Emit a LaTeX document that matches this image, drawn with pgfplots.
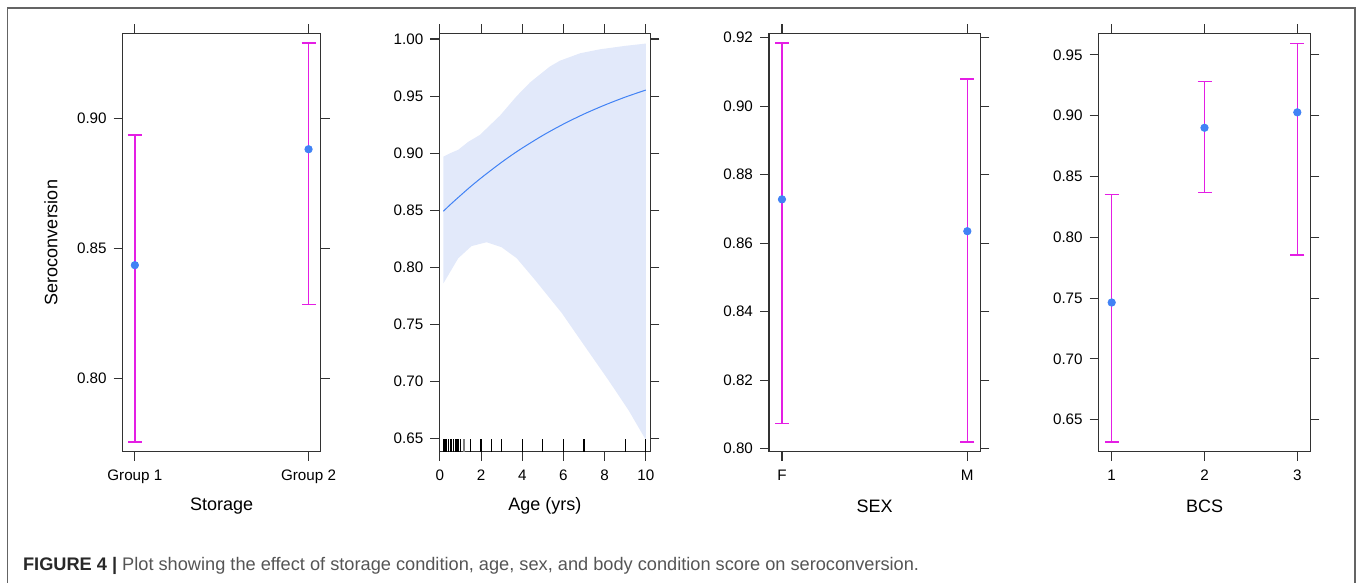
\documentclass[border=0pt]{standalone}
\usepackage{fontspec}
\setmainfont{Liberation Sans}
\usepackage{pgfplots}
\pgfplotsset{compat=1.18}

\definecolor{errmag}{RGB}{228,30,228}
\definecolor{ptblue}{RGB}{65,130,245}
\definecolor{bandblue}{RGB}{226,233,250}
\definecolor{axgray}{RGB}{50,50,50}
\definecolor{framegray}{RGB}{100,100,100}
\definecolor{capdark}{RGB}{40,40,40}
\definecolor{capgray}{RGB}{85,85,85}

\pgfplotsset{
  effstyle/.style={
    scale only axis, anchor=south west,
    height=209.2pt,
    axis line style={axgray, line width=0.6pt},
    tick style={axgray, line width=0.55pt},
    tick align=outside,
    major tick length=4.5pt,
    xtick pos=both, ytick pos=both,
    ticklabel pos=left,
    minor tick num=0,
    tick label style={font=\fontsize{7.6}{9}\selectfont, text=black},
    xticklabel style={yshift=-1.2pt},
    label style={font=\fontsize{9}{11}\selectfont},
    /pgf/number format/assume math mode=true,
    yticklabel style={/pgf/number format/.cd, fixed, fixed zerofill, precision=2},
    xlabel style={at={(axis description cs:0.5,-0.1300)}, anchor=center},
    clip=true,
  },
  errbars/.style={
    only marks, mark=*, mark size=1.85pt,
    mark options={fill=ptblue, draw=ptblue},
    error bars/.cd, y dir=both, y explicit,
    error bar style={draw=errmag, line width=0.75pt},
    error mark options={draw=errmag, line width=0.75pt, mark size=3.5pt, rotate=90},
  },
}

\begin{document}
\begin{tikzpicture}
\useasboundingbox (0,0) rectangle (678.5pt,-291.5pt);
\draw[framegray, line width=0.8pt] (3.75pt,-296pt) -- (3.75pt,-4pt) -- (677.5pt,-4pt) -- (677.5pt,-296pt);

% Panel 1: Storage
\begin{axis}[effstyle, at={(61.35pt,-225.85pt)}, width=99pt,
  xmin=0.93, xmax=2.07, ymin=0.772, ymax=0.9326,
  xtick={1,2}, xticklabels={Group 1,Group 2},
  ytick={0.80,0.85,0.90},
  xlabel={Storage}, ylabel={Seroconversion},
  ylabel style={at={(axis description cs:-0.362,0.5)}, anchor=center}]
\addplot[errbars] table[x=x, y=y, y error plus=ep, y error minus=em] {
x y ep em
1 0.8436 0.0499 0.0678
2 0.8881 0.0407 0.0596
};
\end{axis}

% Panel 2: Age
\begin{axis}[effstyle, at={(219.65pt,-225.85pt)}, width=105.5pt,
  xmin=-0.03, xmax=10.22, ymin=0.6386, ymax=1.005,
  xtick={0,2,4,6,8,10},
  ytick={0.65,0.70,0.75,0.80,0.85,0.90,0.95,1.00},
  xlabel={Age (yrs)}, unbounded coords=jump]
\addplot[fill=bandblue, draw=none] coordinates {
(0.17,0.897) (0.5,0.900) (0.89,0.903) (1.38,0.910) (1.94,0.916) (2.92,0.933)
(3.73,0.950) (4.38,0.962) (5.0,0.971) (5.35,0.976) (5.83,0.981) (6.81,0.9875)
(7.78,0.991) (9.0,0.994) (10,0.996)
(10,0.649) (9.16,0.675) (8.18,0.7014) (7.05,0.7306) (5.92,0.760) (4.62,0.789)
(3.73,0.808) (3.0,0.8176) (2.27,0.822) (1.54,0.8187) (0.89,0.808) (0.17,0.786)
};
\addplot[ptblue, line width=0.5pt, smooth] coordinates {
(0.17,0.8492) (0.5,0.8549) (1,0.8630) (1.5,0.8709) (2,0.8783) (2.5,0.8853)
(3,0.8921) (3.5,0.8985) (4,0.9045) (5,0.9156) (6,0.9255) (7,0.9343)
(8,0.9421) (9,0.9491) (10,0.9553)
};
\addplot[black, line width=0.6pt] coordinates {
(0.17,0.60) (0.17,0.6495) (0.2,nan)
(0.25,0.60) (0.25,0.6495) (0.3,nan)
(0.33,0.60) (0.33,0.6495) (0.35,nan)
(0.42,0.60) (0.42,0.6495) (0.45,nan)
(0.5,0.60) (0.5,0.6495) (0.55,nan)
(0.58,0.60) (0.58,0.6495) (0.6,nan)
(0.67,0.60) (0.67,0.6495) (0.7,nan)
(0.75,0.60) (0.75,0.6495) (0.8,nan)
(0.83,0.60) (0.83,0.6495) (0.85,nan)
(0.92,0.60) (0.92,0.6495) (0.95,nan)
(1.0,0.60) (1.0,0.6495) (1.05,nan)
(1.5,0.60) (1.5,0.6495) (1.6,nan)
(2,0.60) (2,0.6495) (2.1,nan)
(2.5,0.60) (2.5,0.6495) (2.6,nan)
(3,0.60) (3,0.6495) (3.1,nan)
(4,0.60) (4,0.6495) (4.1,nan)
(5,0.60) (5,0.6495) (5.1,nan)
(6,0.60) (6,0.6495) (6.1,nan)
(7,0.60) (7,0.6495) (7.1,nan)
(9,0.60) (9,0.6495) (9.1,nan)
(10,0.60) (10,0.6495)
};
\addplot[gray, line width=0.6pt] coordinates {(1.17,0.60) (1.17,0.6495)};
\end{axis}

% Panel 3: SEX
\begin{axis}[effstyle, at={(384.5pt,-225.85pt)}, width=105.65pt,
  xmin=0.93, xmax=2.07, ymin=0.7991, ymax=0.9213,
  xtick={1,2}, xticklabels={F,M},
  ytick={0.80,0.82,0.84,0.86,0.88,0.90,0.92},
  xlabel={SEX}]
\addplot[errbars] table[x=x, y=y, y error plus=ep, y error minus=em] {
x y ep em
1 0.8728 0.0456 0.0654
2 0.8635 0.0445 0.0615
};
\end{axis}

% Panel 4: BCS
\begin{axis}[effstyle, at={(549.35pt,-225.85pt)}, width=105.8pt,
  xmin=0.86, xmax=3.14, ymin=0.6237, ymax=0.9678,
  xtick={1,2,3},
  ytick={0.65,0.70,0.75,0.80,0.85,0.90,0.95},
  xlabel={BCS}]
\addplot[errbars] table[x=x, y=y, y error plus=ep, y error minus=em] {
x y ep em
1 0.7464 0.0888 0.1147
2 0.8901 0.0379 0.0533
3 0.9028 0.0568 0.1174
};
\end{axis}

\node[anchor=base west, inner sep=0pt, font=\fontsize{9.1}{11}\selectfont, text=capgray]
  at (11.35pt,-285.35pt) {\textcolor{capdark}{\textbf{FIGURE 4 |}} Plot showing the effect of storage condition, age, sex, and body condition score on seroconversion.};
\end{tikzpicture}
\end{document}
